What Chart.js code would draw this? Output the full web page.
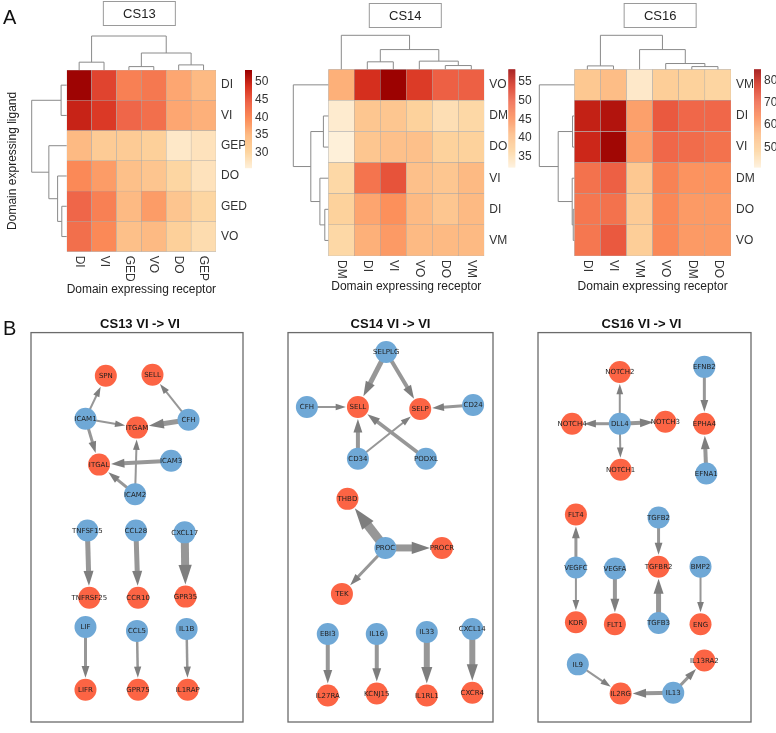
<!DOCTYPE html>
<html>
<head>
<meta charset="utf-8">
<script src="https://cdn.jsdelivr.net/npm/chart.js@4.4.0/dist/chart.umd.min.js"></script>
<style>
  body { margin: 0; background: #fff; width: 776px; height: 733px; position: relative; overflow: hidden; }
  canvas { position: absolute; }
</style>
</head>
<body>
<canvas id="hm13" width="272" height="300" style="left:0;top:0"></canvas>
<canvas id="hm14" width="260" height="300" style="left:272px;top:0"></canvas>
<canvas id="hm16" width="244" height="300" style="left:532px;top:0"></canvas>
<canvas id="net13" width="254" height="416" style="left:0;top:317px"></canvas>
<canvas id="net14" width="227" height="416" style="left:277px;top:317px"></canvas>
<canvas id="net16" width="249" height="416" style="left:527px;top:317px"></canvas>
<script>
// ---------- A : heatmaps (rows = ligand domain, cols = receptor domain) ----------
const cs13Rows = ['DI', 'VI', 'GEP', 'DO', 'GED', 'VO'];
const cs13Cols = ['DI', 'VI', 'GED', 'VO', 'DO', 'GEP'];
const cs13Values = [
  [53, 47, 41, 42, 37, 35],
  [50, 48, 44, 43, 37, 36],
  [35, 32, 32, 31, 27, 28],
  [40, 38, 34, 33, 30, 28],
  [44, 41, 35, 38, 33, 30],
  [43, 40, 34, 35, 31, 29]
];
const cs13Range = [25.7, 53.4];
const cs13Ticks = [30, 35, 40, 45, 50];
// merges [a, b, height]; leaves 0..5, merge k gets id 6+k
const cs13ColTree = [[0, 1, 0.23], [2, 3, 0.10], [4, 5, 0.15], [7, 8, 0.50], [6, 9, 1]];
const cs13RowTree = [[0, 1, 0.16], [4, 5, 0.14], [3, 7, 0.26], [2, 8, 0.51], [6, 9, 1]];

const cs14Rows = ['VO', 'DM', 'DO', 'VI', 'DI', 'VM'];
const cs14Cols = ['DM', 'DI', 'VI', 'VO', 'DO', 'VM'];
const cs14Values = [
  [42, 54, 58, 53, 50, 50],
  [33, 39, 39, 37, 35, 36],
  [32, 39, 40, 40, 37, 37],
  [36, 48, 51, 40, 39, 41],
  [37, 43, 45, 41, 39, 41],
  [36, 42, 44, 41, 41, 41]
];
const cs14Range = [32.3, 58.2];
const cs14Ticks = [35, 40, 45, 50, 55];
const cs14ColTree = [[4, 5, 0.11], [1, 2, 0.22], [3, 6, 0.24], [7, 8, 0.58], [0, 9, 1]];
const cs14RowTree = [[4, 5, 0.10], [1, 2, 0.14], [3, 6, 0.24], [7, 8, 0.50], [0, 9, 1]];

const cs16Rows = ['VM', 'DI', 'VI', 'DM', 'DO', 'VO'];
const cs16Cols = ['DI', 'VI', 'VM', 'VO', 'DM', 'DO'];
const cs16Values = [
  [52, 55, 43, 50, 49, 48],
  [80, 82, 60, 72, 70, 70],
  [79, 84, 60, 70, 69, 68],
  [68, 71, 52, 65, 62, 62],
  [67, 68, 51, 64, 61, 61],
  [67, 72, 50, 64, 61, 61]
];
const cs16Range = [41, 85];
const cs16Ticks = [50, 60, 70, 80];
const cs16ColTree = [[4, 5, 0.08], [0, 1, 0.10], [3, 6, 0.17], [2, 8, 0.58], [7, 9, 1]];
const cs16RowTree = [[4, 5, 0.03], [1, 2, 0.05], [3, 6, 0.06], [7, 8, 0.46], [0, 9, 1]];

// ---------- B : VI -> VI networks (layout units 0..100 inside each box) ----------
const net13Senders = ['ICAM1', 'CFH', 'ICAM3', 'ICAM2', 'TNFSF15', 'CCL28', 'CXCL17', 'LIF', 'CCL5', 'IL1B'];
const net13SenderPos = [[25.7, 22.1], [74.3, 22.4], [66.1, 32.9], [49.1, 41.5], [26.6, 50.8], [49.5, 50.8], [72.5, 51.3], [25.7, 75.6], [50, 76.6], [73.4, 76.1]];
const net13Receivers = ['SPN', 'SELL', 'ITGAM', 'ITGAL', 'TNFRSF25', 'CCR10', 'GPR35', 'LIFR', 'GPR75', 'IL1RAP'];
const net13ReceiverPos = [[35.3, 11.1], [57.3, 10.8], [50, 24.4], [32.1, 33.9], [27.5, 68.1], [50.5, 68.1], [72.9, 67.8], [25.7, 91.7], [50.5, 91.7], [73.9, 91.7]];
const net13Links = [
  ['ICAM1', 'SPN', 2], ['CFH', 'SELL', 2], ['ICAM1', 'ITGAM', 2], ['CFH', 'ITGAM', 5],
  ['ICAM1', 'ITGAL', 3], ['ICAM3', 'ITGAL', 4], ['ICAM2', 'ITGAM', 2], ['ICAM2', 'ITGAL', 3],
  ['TNFSF15', 'TNFRSF25', 5], ['CCL28', 'CCR10', 5], ['CXCL17', 'GPR35', 8],
  ['LIF', 'LIFR', 3], ['CCL5', 'GPR75', 2.5], ['IL1B', 'IL1RAP', 2.5]
];

const net14Senders = ['SELPLG', 'CFH', 'CD24', 'CD34', 'PODXL', 'PROC', 'EBI3', 'IL16', 'IL33', 'CXCL14'];
const net14SenderPos = [[47.9, 5.0], [9.2, 19.1], [90.3, 18.6], [34.1, 32.4], [67.3, 32.4], [47.5, 55.3], [19.4, 77.4], [43.3, 77.4], [67.7, 76.9], [89.9, 76.1]];
const net14Receivers = ['SELL', 'SELP', 'THBD', 'PROCR', 'TEK', 'IL27RA', 'KCNJ15', 'IL1RL1', 'CXCR4'];
const net14ReceiverPos = [[34.1, 19.1], [64.5, 19.6], [29.0, 42.7], [75.1, 55.3], [26.3, 67.1], [19.4, 93.2], [43.3, 92.7], [67.7, 93.2], [89.9, 92.5]];
const net14Links = [
  ['SELPLG', 'SELL', 5], ['SELPLG', 'SELP', 4], ['CFH', 'SELL', 2], ['CD24', 'SELP', 3],
  ['CD34', 'SELL', 4], ['CD34', 'SELP', 2], ['PODXL', 'SELL', 3.5],
  ['PROC', 'THBD', 9], ['PROC', 'PROCR', 7], ['PROC', 'TEK', 3],
  ['EBI3', 'IL27RA', 4], ['IL16', 'KCNJ15', 4], ['IL33', 'IL1RL1', 6], ['CXCL14', 'CXCR4', 6]
];

const net16Senders = ['EFNB2', 'DLL4', 'EFNA1', 'TGFB2', 'VEGFC', 'VEGFA', 'BMP2', 'TGFB3', 'IL9', 'IL13'];
const net16SenderPos = [[78.1, 8.8], [38.4, 23.4], [79.0, 36.2], [56.6, 47.5], [17.8, 60.3], [36.1, 60.6], [76.3, 60.1], [56.6, 74.6], [18.7, 85.2], [63.5, 92.5]];
const net16Receivers = ['NOTCH2', 'NOTCH4', 'NOTCH3', 'EPHA4', 'NOTCH1', 'FLT4', 'TGFBR2', 'KDR', 'FLT1', 'ENG', 'IL13RA2', 'IL2RG'];
const net16ReceiverPos = [[38.4, 10.1], [16.0, 23.4], [59.8, 22.9], [78.1, 23.4], [38.8, 35.2], [17.8, 46.7], [56.6, 60.1], [17.8, 74.4], [36.1, 74.9], [76.3, 74.9], [78.1, 84.2], [38.8, 92.7]];
const net16Links = [
  ['DLL4', 'NOTCH2', 2], ['DLL4', 'NOTCH4', 3], ['DLL4', 'NOTCH3', 4], ['DLL4', 'NOTCH1', 2],
  ['EFNB2', 'EPHA4', 3], ['EFNA1', 'EPHA4', 4], ['VEGFC', 'FLT4', 3], ['VEGFC', 'KDR', 2],
  ['VEGFA', 'FLT1', 4], ['TGFB2', 'TGFBR2', 3], ['TGFB3', 'TGFBR2', 5], ['BMP2', 'ENG', 2],
  ['IL9', 'IL2RG', 2], ['IL13', 'IL2RG', 4], ['IL13', 'IL13RA2', 3]
];

const FONT = '"Liberation Sans", Arial, sans-serif';
Chart.defaults.font.family = FONT;

// OrRd palette
const heatStops = ['#FEF0D9', '#FDD49E', '#FDBB84', '#FC8D59', '#EF6548', '#D7301F', '#990000'];
function hexRgb(h) {
  return [1, 3, 5].map(i => parseInt(h.slice(i, i + 2), 16));
}
function heatColor(v, range) {
  let t = (v - range[0]) / (range[1] - range[0]);
  t = Math.max(0, Math.min(1, t)) * (heatStops.length - 1);
  const i = Math.min(Math.floor(t), heatStops.length - 2);
  const f = t - i;
  const a = hexRgb(heatStops[i]), b = hexRgb(heatStops[i + 1]);
  const c = a.map((av, k) => Math.round(av + (b[k] - av) * f));
  return `rgb(${c[0]},${c[1]},${c[2]})`;
}

function drawTree(ctx, tree, leafPos, toPix, horizontal) {
  const n = tree.length + 1;
  const pos = [], hgt = [];
  for (let i = 0; i < n; i++) { pos[i] = leafPos(i); hgt[i] = 0; }
  ctx.save();
  ctx.strokeStyle = '#8a8a8a';
  ctx.lineWidth = 1;
  tree.forEach(([a, b, h], k) => {
    const pts = [[pos[a], hgt[a]], [pos[a], h], [pos[b], h], [pos[b], hgt[b]]];
    ctx.beginPath();
    pts.forEach(([p, hh], j) => {
      const x = horizontal ? p : toPix(hh);
      const y = horizontal ? toPix(hh) : p;
      if (j === 0) ctx.moveTo(x, y); else ctx.lineTo(x, y);
    });
    ctx.stroke();
    pos[n + k] = (pos[a] + pos[b]) / 2;
    hgt[n + k] = h;
  });
  ctx.restore();
}

function makeHeatmap(id, rows, cols, values, range, ticks, colTree, rowTree, o) {
  const rowsRev = rows.slice().reverse();
  const datasets = rows.map((r, i) => ({
    label: r,
    data: cols.map(() => 1),
    backgroundColor: values[i].map(v => heatColor(v, range)),
    borderColor: '#a8a8a8',
    borderWidth: 0.5,
    borderSkipped: false,
    barPercentage: 1,
    categoryPercentage: 1
  })).reverse();

  const heatPlugin = {
    id: 'heatExtras',
    afterDraw(chart) {
      const ctx = chart.ctx, area = chart.chartArea;
      const xs = chart.scales.x, ys = chart.scales.y;
      // column labels, read top to bottom
      ctx.save();
      ctx.fillStyle = '#333';
      ctx.font = '12px ' + FONT;
      ctx.textAlign = 'left';
      ctx.textBaseline = 'middle';
      cols.forEach((c, i) => {
        ctx.save();
        ctx.translate(xs.getPixelForValue(i), area.bottom + 4);
        ctx.rotate(Math.PI / 2);
        ctx.fillText(c, 0, 0);
        ctx.restore();
      });
      ctx.restore();
      // dendrograms
      drawTree(ctx, colTree, i => xs.getPixelForValue(i), h => area.top - h * 34, true);
      drawTree(ctx, rowTree, i => ys.getPixelForValue(rows.length - 1 - i + 0.5), h => area.left - h * 35, false);
      // colour key
      const lx = area.right + o.legendDx, ly = area.top, lh = 98, lw = 7;
      for (let p = 0; p < lh; p++) {
        ctx.fillStyle = heatColor(range[1] - (p + 0.5) / lh * (range[1] - range[0]), range);
        ctx.fillRect(lx, ly + p, lw, 1.2);
      }
      ctx.fillStyle = '#333';
      ctx.font = '12px ' + FONT;
      ctx.textAlign = 'left';
      ctx.textBaseline = 'middle';
      ticks.forEach(t => {
        ctx.fillText(String(t), lx + lw + 3, ly + (range[1] - t) / (range[1] - range[0]) * lh);
      });
      // title box
      const bx = (area.left + area.right) / 2 + o.titleDx;
      ctx.strokeStyle = '#9a9a9a';
      ctx.lineWidth = 1;
      ctx.strokeRect(bx - 36, o.titleTop, 72, 24);
      ctx.fillStyle = '#222';
      ctx.font = '13px ' + FONT;
      ctx.textAlign = 'center';
      ctx.fillText(o.title, bx, o.titleTop + 12.5);
      if (o.yTitle) {
        ctx.save();
        ctx.translate(13, (area.top + area.bottom) / 2);
        ctx.rotate(-Math.PI / 2);
        ctx.fillStyle = '#222';
        ctx.font = '12px ' + FONT;
        ctx.fillText(o.yTitle, 0, 0);
        ctx.restore();
      }
      if (o.panel) {
        ctx.fillStyle = '#111';
        ctx.font = '20px ' + FONT;
        ctx.textAlign = 'left';
        ctx.fillText(o.panel, 3, 18);
      }
    }
  };

  new Chart(document.getElementById(id), {
    type: 'bar',
    data: { labels: cols, datasets: datasets },
    options: {
      responsive: false,
      animation: false,
      layout: { padding: { left: o.padLeft, top: o.padTop, right: 0, bottom: 0 } },
      plugins: { legend: { display: false }, tooltip: { enabled: false } },
      scales: {
        x: {
          stacked: true,
          grid: { display: false, drawTicks: false },
          border: { display: false },
          ticks: { display: false },
          title: {
            display: true,
            text: 'Domain expressing receptor',
            color: '#222',
            font: { size: 12 },
            padding: { top: 0, bottom: o.xTitlePad }
          },
          afterFit: s => { s.height = o.xAxisH; }
        },
        y: {
          stacked: true,
          position: 'right',
          min: 0,
          max: rows.length,
          grid: { display: false, drawTicks: false },
          border: { display: false },
          ticks: {
            autoSkip: false,
            padding: 5,
            color: '#333',
            font: { size: 12 },
            callback: v => rowsRev[Math.floor(v)]
          },
          afterBuildTicks: s => { s.ticks = rows.map((_, i) => ({ value: i + 0.5 })); },
          afterFit: s => { s.width = o.yAxisW; }
        }
      }
    },
    plugins: [heatPlugin]
  });
}

makeHeatmap('hm13', cs13Rows, cs13Cols, cs13Values, cs13Range, cs13Ticks, cs13ColTree, cs13RowTree,
  { title: 'CS13', titleDx: -2, titleTop: 1.5, padLeft: 66.7, padTop: 70, yAxisW: 56, xAxisH: 48.3, xTitlePad: 3,
    legendDx: 29, yTitle: 'Domain expressing ligand', panel: 'A' });
makeHeatmap('hm14', cs14Rows, cs14Cols, cs14Values, cs14Range, cs14Ticks, cs14ColTree, cs14RowTree,
  { title: 'CS14', titleDx: -1, titleTop: 3.5, padLeft: 56.3, padTop: 69.3, yAxisW: 47.7, xAxisH: 44, xTitlePad: 6,
    legendDx: 24 });
makeHeatmap('hm16', cs16Rows, cs16Cols, cs16Values, cs16Range, cs16Ticks, cs16ColTree, cs16RowTree,
  { title: 'CS16', titleDx: 7.5, titleTop: 3.5, padLeft: 42.3, padTop: 69.3, yAxisW: 45, xAxisH: 44, xTitlePad: 6,
    legendDx: 23 });

// ---------- networks ----------
const NODE_R = 11;
const BLUE = '#6FA8D6';
const RED = '#FC6444';

function makeNetwork(id, title, senders, senderPos, receivers, receiverPos, links, o) {
  const netPlugin = {
    id: 'netExtras',
    beforeDatasetsDraw(chart) {
      const ctx = chart.ctx, area = chart.chartArea;
      const xs = chart.scales.x, ys = chart.scales.y;
      ctx.save();
      ctx.strokeStyle = '#6b6b6b';
      ctx.lineWidth = 1.3;
      ctx.strokeRect(area.left, area.top, area.right - area.left, area.bottom - area.top);
      const where = {};
      senders.forEach((n, i) => { where[n] = [xs.getPixelForValue(senderPos[i][0]), ys.getPixelForValue(senderPos[i][1])]; });
      receivers.forEach((n, i) => { where[n] = [xs.getPixelForValue(receiverPos[i][0]), ys.getPixelForValue(receiverPos[i][1])]; });
      links.forEach(([s, t, w]) => {
        const [x1, y1] = where[s], [x2, y2] = where[t];
        const L = Math.hypot(x2 - x1, y2 - y1), ux = (x2 - x1) / L, uy = (y2 - y1) / L;
        const tipX = x2 - ux * (NODE_R + 1), tipY = y2 - uy * (NODE_R + 1);
        const headL = 7 + w * 1.6, headW = 4.5 + w * 1.1;
        const bX = tipX - ux * headL, bY = tipY - uy * headL;
        ctx.strokeStyle = '#979797';
        ctx.lineWidth = w;
        ctx.lineCap = 'butt';
        ctx.beginPath();
        ctx.moveTo(x1, y1);
        ctx.lineTo(bX + ux, bY + uy);
        ctx.stroke();
        ctx.fillStyle = '#7e7e7e';
        ctx.beginPath();
        ctx.moveTo(tipX, tipY);
        ctx.lineTo(bX - uy * headW / 2, bY + ux * headW / 2);
        ctx.lineTo(bX + uy * headW / 2, bY - ux * headW / 2);
        ctx.closePath();
        ctx.fill();
      });
      ctx.restore();
    },
    afterDatasetsDraw(chart) {
      const ctx = chart.ctx;
      ctx.save();
      ctx.fillStyle = '#1e1e1e';
      ctx.font = '7px "DejaVu Sans", sans-serif';
      ctx.textAlign = 'center';
      ctx.textBaseline = 'middle';
      [senders, receivers].forEach((names, d) => {
        chart.getDatasetMeta(d).data.forEach((pt, i) => ctx.fillText(names[i], pt.x, pt.y + 0.5));
      });
      if (o.panel) {
        ctx.fillStyle = '#111';
        ctx.font = '20px ' + FONT;
        ctx.textAlign = 'left';
        ctx.fillText(o.panel, 3, 12);
      }
      ctx.restore();
    }
  };

  new Chart(document.getElementById(id), {
    type: 'scatter',
    data: {
      datasets: [
        { data: senderPos.map(([x, y]) => ({ x, y })), backgroundColor: BLUE, borderWidth: 0, pointRadius: NODE_R, pointHoverRadius: NODE_R },
        { data: receiverPos.map(([x, y]) => ({ x, y })), backgroundColor: RED, borderWidth: 0, pointRadius: NODE_R, pointHoverRadius: NODE_R }
      ]
    },
    options: {
      responsive: false,
      animation: false,
      layout: { padding: { left: o.padLeft, right: o.padRight, top: 0, bottom: 3 } },
      plugins: {
        legend: { display: false },
        tooltip: { enabled: false },
        title: {
          display: true,
          text: title,
          color: '#111',
          font: { size: 13, weight: 'bold' },
          padding: { top: 0, bottom: 0 }
        }
      },
      scales: {
        x: { display: false, min: 0, max: 100 },
        y: { display: false, min: 0, max: 100, reverse: true }
      }
    },
    plugins: [netPlugin]
  });
}

makeNetwork('net13', 'CS13 VI -> VI', net13Senders, net13SenderPos, net13Receivers, net13ReceiverPos, net13Links,
  { padLeft: 31, padRight: 5, panel: 'B' });
makeNetwork('net14', 'CS14 VI -> VI', net14Senders, net14SenderPos, net14Receivers, net14ReceiverPos, net14Links,
  { padLeft: 5, padRight: 5 });
makeNetwork('net16', 'CS16 VI -> VI', net16Senders, net16SenderPos, net16Receivers, net16ReceiverPos, net16Links,
  { padLeft: 5, padRight: 25 });
</script>
</body>
</html>
